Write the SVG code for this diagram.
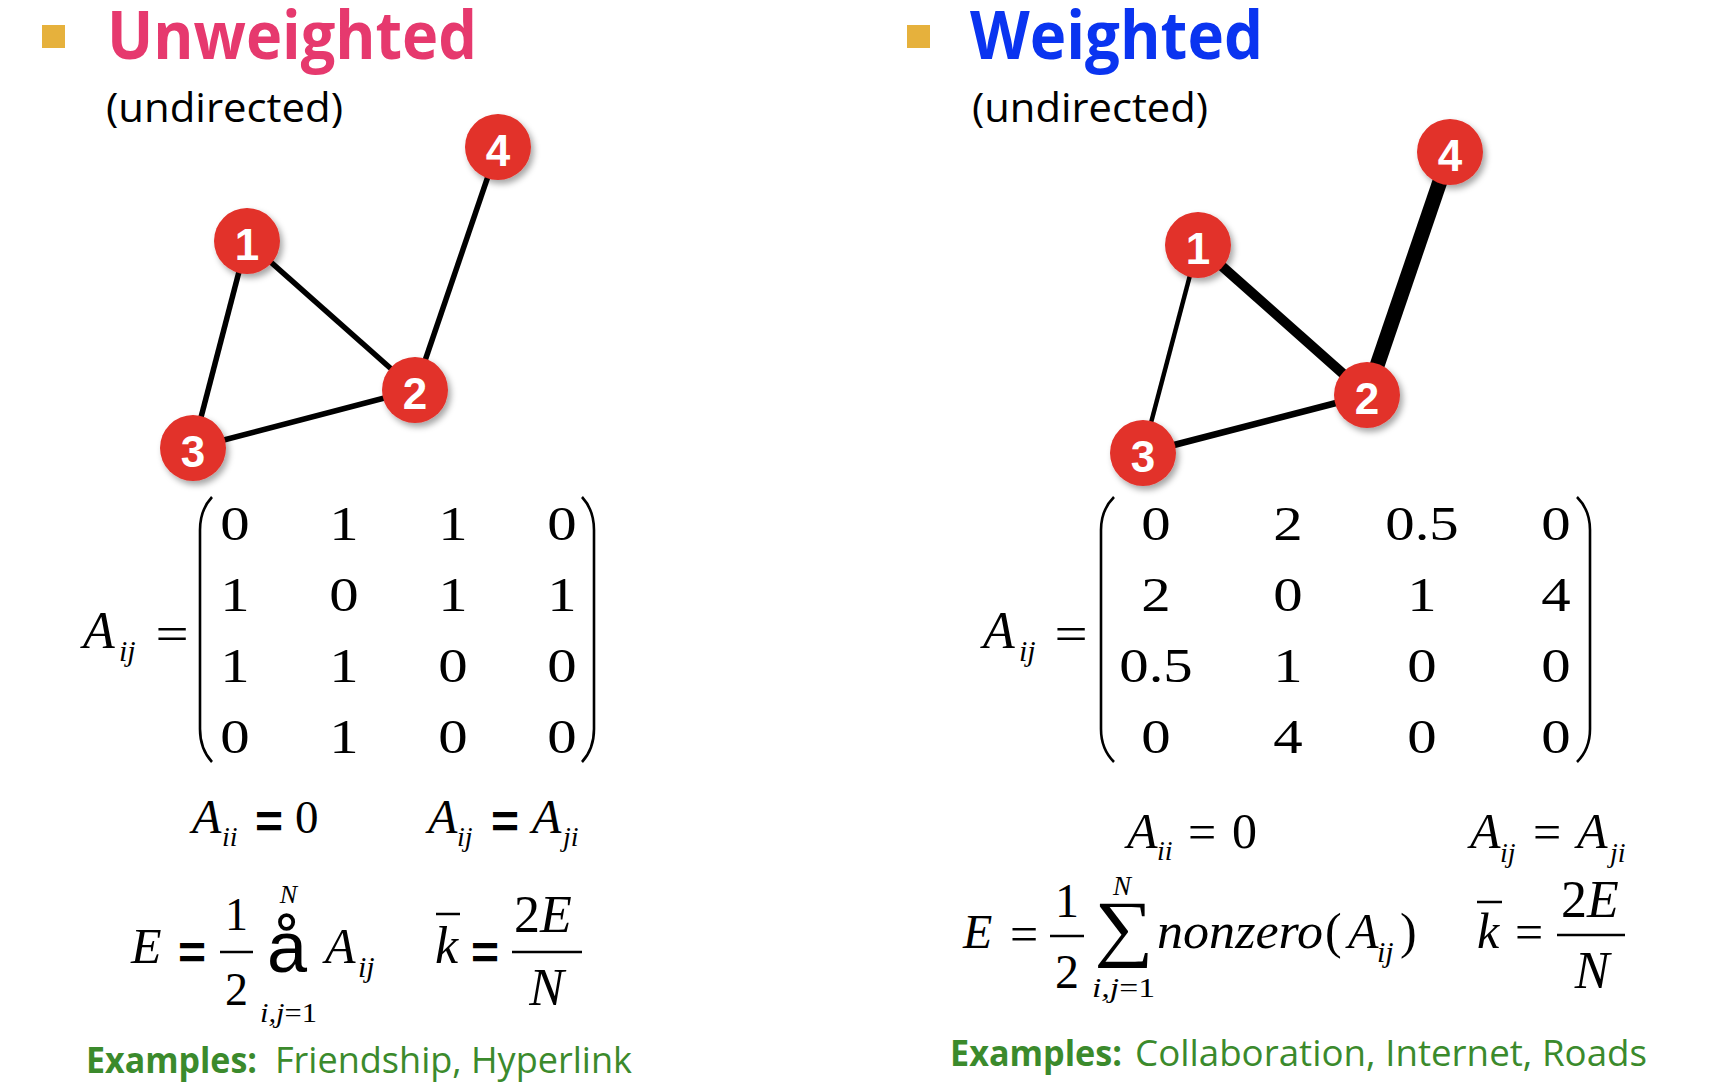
<svg xmlns="http://www.w3.org/2000/svg" width="1720" height="1084" viewBox="0 0 1720 1084">
<style>
.title{font-family:"Open Sans","Noto Sans",sans-serif;font-weight:700;font-size:66px}
.sub{font-family:"Open Sans","Noto Sans",sans-serif;font-size:40px;fill:#000}
.bullet{fill:#e6b13c}
.ex{font-family:"Open Sans","Noto Sans",sans-serif;font-size:36px;fill:#3b8a2c}
.exb{font-weight:700}
.edge{stroke:#000;stroke-linecap:butt;fill:none}
.node circle{fill:#e2312a}
.node text{font-family:"Liberation Sans",Arial,sans-serif;font-weight:700;font-size:44px;fill:#fff;text-anchor:middle}
.it{font-family:"Liberation Serif","Times New Roman",serif;font-style:italic;fill:#000}
.up{font-family:"Liberation Serif","Times New Roman",serif;fill:#000}
.md{font-family:"Liberation Serif","Times New Roman",serif;font-size:49px;text-anchor:middle;transform-box:fill-box;transform-origin:center;transform:scaleX(1.2)}
.sig{font-family:"Liberation Serif","Times New Roman",serif;font-size:74px;text-anchor:middle;transform-box:fill-box;transform-origin:center;transform:scaleX(1.12)}
.beq{font-family:"Liberation Sans",Arial,sans-serif;font-weight:700;font-size:48px}
.paren{stroke:#000;stroke-width:2.6;fill:none}
.rule{stroke:#000;stroke-width:2.5}
</style>
<defs>
<filter id="sh" x="-30%" y="-30%" width="170%" height="170%">
<feDropShadow dx="3" dy="4" stdDeviation="3" flood-color="#000" flood-opacity="0.35"/>
</filter>
</defs>

<!-- Titles -->
<rect class="bullet" x="42" y="25" width="23" height="23"/>
<text class="title" x="107" y="59" fill="#e6396e" textLength="370" lengthAdjust="spacingAndGlyphs">Unweighted</text>
<text class="sub" x="106" y="122" textLength="237" lengthAdjust="spacingAndGlyphs">(undirected)</text>
<rect class="bullet" x="907" y="25" width="23" height="23"/>
<text class="title" x="970" y="59" fill="#0a34f0" textLength="293" lengthAdjust="spacingAndGlyphs">Weighted</text>
<text class="sub" x="972" y="122" textLength="236" lengthAdjust="spacingAndGlyphs">(undirected)</text>

<!-- Connectors -->
<g id="connectors">
<line class="edge" x1="247" y1="241" x2="193" y2="448" stroke-width="5.5"/>
<line class="edge" x1="247" y1="241" x2="415" y2="390" stroke-width="5.5"/>
<line class="edge" x1="193" y1="448" x2="415" y2="390" stroke-width="5.5"/>
<line class="edge" x1="415" y1="390" x2="498" y2="147" stroke-width="5.5"/>
<line class="edge" x1="1198" y1="245" x2="1143" y2="453" stroke-width="4.5"/>
<line class="edge" x1="1198" y1="245" x2="1367" y2="395" stroke-width="10"/>
<line class="edge" x1="1143" y1="453" x2="1367" y2="395" stroke-width="6.5"/>
<line class="edge" x1="1367" y1="395" x2="1450" y2="152" stroke-width="15"/>
</g>

<!-- Unweighted nodes -->
<g id="u-node-1" class="node"><circle cx="247" cy="241" r="33" filter="url(#sh)"/><text x="247" y="260">1</text></g>
<g id="u-node-2" class="node"><circle cx="415" cy="390" r="33" filter="url(#sh)"/><text x="415" y="409">2</text></g>
<g id="u-node-3" class="node"><circle cx="193" cy="448" r="33" filter="url(#sh)"/><text x="193" y="467">3</text></g>
<g id="u-node-4" class="node"><circle cx="498" cy="147" r="33" filter="url(#sh)"/><text x="498" y="166">4</text></g>

<!-- Weighted nodes -->
<g id="w-node-1" class="node"><circle cx="1198" cy="245" r="33" filter="url(#sh)"/><text x="1198" y="264">1</text></g>
<g id="w-node-2" class="node"><circle cx="1367" cy="395" r="33" filter="url(#sh)"/><text x="1367" y="414">2</text></g>
<g id="w-node-3" class="node"><circle cx="1143" cy="453" r="33" filter="url(#sh)"/><text x="1143" y="472">3</text></g>
<g id="w-node-4" class="node"><circle cx="1450" cy="152" r="33" filter="url(#sh)"/><text x="1450" y="171">4</text></g>

<!-- Left matrix -->
<g id="u-matrix">
<text class="it" x="83" y="648" font-size="52">A</text>
<text class="it" x="119" y="661" font-size="30">ij</text>
<text class="md" x="172" y="650" font-size="52">=</text>
<path class="paren" d="M212,497 Q200,510 200,530 L200,729 Q200,749 212,762"/>
<path class="paren" d="M582,497 Q594,510 594,530 L594,729 Q594,749 582,762"/>
<text class="md" x="235" y="540">0</text><text class="md" x="344" y="540">1</text><text class="md" x="453" y="540">1</text><text class="md" x="562" y="540">0</text>
<text class="md" x="235" y="611">1</text><text class="md" x="344" y="611">0</text><text class="md" x="453" y="611">1</text><text class="md" x="562" y="611">1</text>
<text class="md" x="235" y="682">1</text><text class="md" x="344" y="682">1</text><text class="md" x="453" y="682">0</text><text class="md" x="562" y="682">0</text>
<text class="md" x="235" y="753">0</text><text class="md" x="344" y="753">1</text><text class="md" x="453" y="753">0</text><text class="md" x="562" y="753">0</text>
</g>

<!-- Right matrix -->
<g id="w-matrix">
<text class="it" x="983" y="648" font-size="52">A</text>
<text class="it" x="1019" y="661" font-size="30">ij</text>
<text class="md" x="1071" y="650" font-size="52">=</text>
<path class="paren" d="M1114,497 Q1101,510 1101,530 L1101,729 Q1101,749 1114,762"/>
<path class="paren" d="M1577,497 Q1590,510 1590,530 L1590,729 Q1590,749 1577,762"/>
<text class="md" x="1156" y="540">0</text><text class="md" x="1288" y="540">2</text><text class="md" x="1422" y="540">0.5</text><text class="md" x="1556" y="540">0</text>
<text class="md" x="1156" y="611">2</text><text class="md" x="1288" y="611">0</text><text class="md" x="1422" y="611">1</text><text class="md" x="1556" y="611">4</text>
<text class="md" x="1156" y="682">0.5</text><text class="md" x="1288" y="682">1</text><text class="md" x="1422" y="682">0</text><text class="md" x="1556" y="682">0</text>
<text class="md" x="1156" y="753">0</text><text class="md" x="1288" y="753">4</text><text class="md" x="1422" y="753">0</text><text class="md" x="1556" y="753">0</text>
</g>

<!-- Left formulas -->
<g id="u-formulas">
<text class="it" x="192" y="833" font-size="48">A</text>
<text class="it" x="222" y="846" font-size="28">ii</text>
<text class="beq" x="255" y="838">=</text>
<text class="up" x="295" y="833" font-size="47">0</text>

<text class="it" x="428" y="833" font-size="48">A</text>
<text class="it" x="457" y="846" font-size="28">ij</text>
<text class="beq" x="491" y="838">=</text>
<text class="it" x="532" y="833" font-size="48">A</text>
<text class="it" x="563" y="846" font-size="28">ji</text>

<text class="it" x="131" y="963" font-size="50">E</text>
<text class="beq" x="178" y="969">=</text>
<text class="up" x="236.5" y="930" font-size="46" text-anchor="middle">1</text>
<line class="rule" x1="220" y1="952" x2="253" y2="952"/>
<text class="up" x="236.5" y="1005" font-size="46" text-anchor="middle">2</text>
<text x="267" y="972" font-family="Liberation Sans,Arial,sans-serif" font-size="72">å</text>
<text class="it" x="288.5" y="903" font-size="26" text-anchor="middle">N</text>
<text x="260" y="1022" font-size="27" textLength="57" lengthAdjust="spacingAndGlyphs"><tspan class="it">i,j</tspan><tspan class="up">=1</tspan></text>
<text class="it" x="325" y="963" font-size="50">A</text>
<text class="it" x="358" y="977" font-size="30">ij</text>

<text class="it" x="435" y="963" font-size="52">k</text>
<line class="rule" x1="436" y1="914" x2="460" y2="914"/>
<text class="beq" x="471" y="969">=</text>
<text x="543" y="932" font-size="52" text-anchor="middle"><tspan class="up">2</tspan><tspan class="it">E</tspan></text>
<line class="rule" x1="512" y1="952" x2="582" y2="952"/>
<text class="it" x="546.5" y="1005" font-size="52" text-anchor="middle">N</text>
</g>

<!-- Right formulas -->
<g id="w-formulas">
<text class="it" x="1127" y="848" font-size="50">A</text>
<text class="it" x="1157" y="860" font-size="28">ii</text>
<text class="up" x="1188" y="849" font-size="50">=</text>
<text class="up" x="1232" y="848" font-size="50">0</text>

<text class="it" x="1470" y="848" font-size="50">A</text>
<text class="it" x="1500" y="862" font-size="28">ij</text>
<text class="up" x="1533" y="849" font-size="50">=</text>
<text class="it" x="1577" y="848" font-size="50">A</text>
<text class="it" x="1610" y="862" font-size="28">ji</text>

<text class="it" x="963" y="948" font-size="48">E</text>
<text class="up" x="1010" y="951" font-size="50">=</text>
<text class="up" x="1067" y="917" font-size="48" text-anchor="middle">1</text>
<line class="rule" x1="1050" y1="936" x2="1084" y2="936"/>
<text class="up" x="1067" y="988" font-size="48" text-anchor="middle">2</text>
<text class="sig" x="1124" y="952">∑</text>
<text class="it" x="1122" y="895" font-size="27" text-anchor="middle">N</text>
<text x="1092" y="997" font-size="27" textLength="63" lengthAdjust="spacingAndGlyphs"><tspan class="it">i,j</tspan><tspan class="up">=1</tspan></text>
<text class="it" x="1157" y="948" font-size="50" textLength="166" lengthAdjust="spacingAndGlyphs">nonzero</text>
<text class="up" x="1325" y="948" font-size="50">(</text>
<text class="it" x="1348" y="948" font-size="50">A</text>
<text class="it" x="1377" y="962" font-size="30">ij</text>
<text class="up" x="1400" y="948" font-size="50">)</text>

<text class="it" x="1477" y="948" font-size="50">k</text>
<line class="rule" x1="1477" y1="902" x2="1502" y2="902"/>
<text class="up" x="1515" y="949" font-size="50">=</text>
<text x="1590" y="917" font-size="52" text-anchor="middle"><tspan class="up">2</tspan><tspan class="it">E</tspan></text>
<line class="rule" x1="1557" y1="935" x2="1625" y2="935"/>
<text class="it" x="1592" y="988" font-size="52" text-anchor="middle">N</text>
</g>

<!-- Examples -->
<text class="ex exb" x="86" y="1073" textLength="171" lengthAdjust="spacingAndGlyphs">Examples:</text>
<text class="ex" x="275" y="1073" textLength="357" lengthAdjust="spacingAndGlyphs">Friendship, Hyperlink</text>
<text class="ex exb" x="950" y="1066" textLength="172" lengthAdjust="spacingAndGlyphs">Examples:</text>
<text class="ex" x="1135" y="1066" textLength="512" lengthAdjust="spacingAndGlyphs">Collaboration, Internet, Roads</text>
</svg>
